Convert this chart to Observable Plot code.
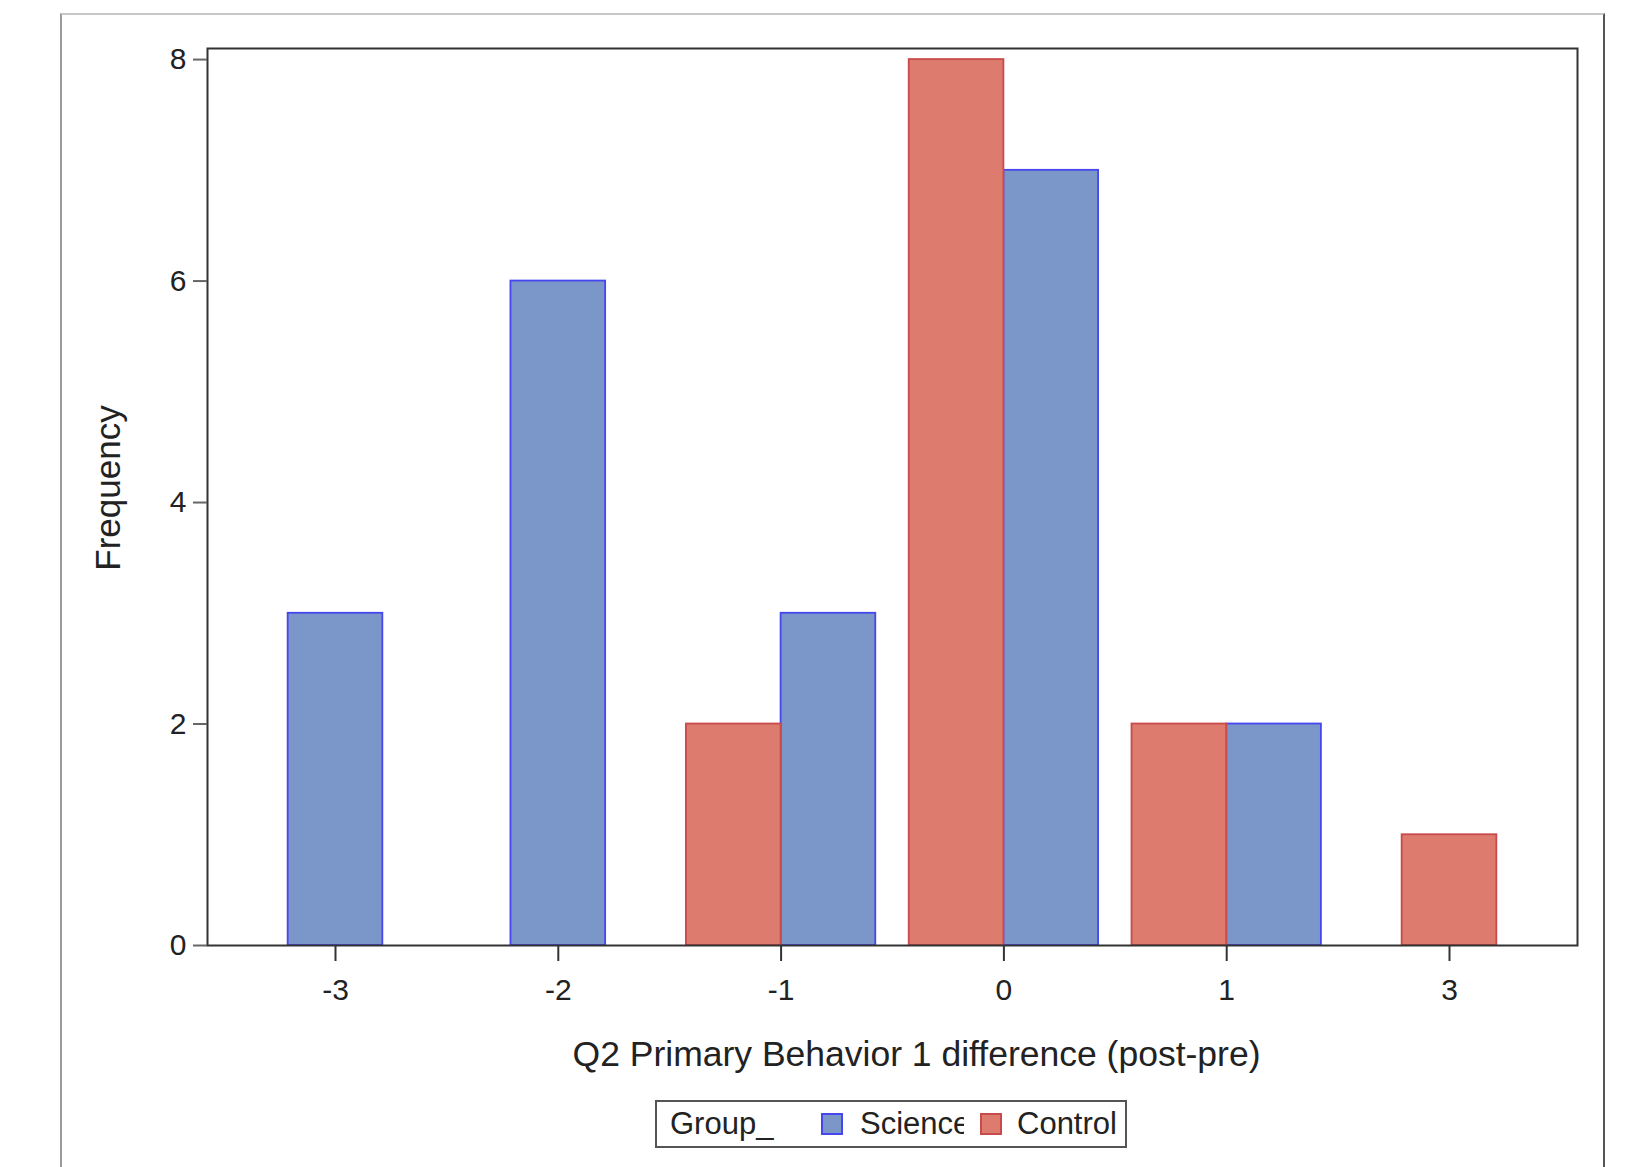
<!DOCTYPE html>
<html>
<head>
<meta charset="utf-8">
<script src="https://cdn.jsdelivr.net/npm/d3@7"></script>
<script src="https://cdn.jsdelivr.net/npm/@observablehq/plot@0.6"></script>
<style>
  html, body { margin: 0; padding: 0; background: #fff; }
  #page { position: relative; width: 1631px; height: 1167px; overflow: hidden; font-family: "Liberation Sans", Arial, Helvetica, sans-serif; color: #222; }
  #outer { position: absolute; left: 60px; top: 13px; width: 1541px; height: 1300px;
           border-top: 2px solid #c8c8c8; border-left: 2px solid #9a9a9a; border-right: 2px solid #555; }
  #chart { position: absolute; left: 0; top: 0; }
  #legend { position: absolute; left: 655px; top: 1100px; width: 468px; height: 44px;
            border: 2px solid #555; display: flex; align-items: center; font-size: 31px; white-space: nowrap; }
  #legend .title { margin-left: 13px; width: 151px; display: inline-block; flex: none; }
  #legend .sw { width: 18px; height: 18px; display: inline-block; flex: none; }
  #legend .lab { display: inline-block; overflow: hidden; flex: none; }
</style>
</head>
<body>
<div id="page">
  <div id="outer"></div>
  <div id="chart"></div>
  <div id="legend"></div>
</div>
<script>
// ---- data ----
const categories = ["-3", "-2", "-1", "0", "1", "3"];
const groups = ["Science", "Control"];
const scienceFreq = [3, 6, 3, 7, 2, 0];
const controlFreq = [0, 0, 2, 8, 2, 1];
const yTicks = [0, 2, 4, 6, 8];
const xLabel = "Q2 Primary Behavior 1 difference (post-pre)";
const yLabel = "Frequency";
const legendTitle = "Group_";

// ---- styles ----
const fills = {Science: "#7b96c8", Control: "#dc7b6e"};
const strokes = {Science: "#4646ee", Control: "#c84a4a"};
const barWidth = 0.425;           // fraction of a category step per bar
const clusterOrder = ["Control", "Science"]; // left-to-right within a cluster

// build rows: only groups with a non-zero count are placed, centered on the tick
const freq = {Science: scienceFreq, Control: controlFreq};
const rows = [];
categories.forEach((c, i) => {
  const present = clusterOrder.filter(g => freq[g][i] > 0);
  const k = present.length;
  present.forEach((g, j) => {
    const x1 = i - k * barWidth / 2 + j * barWidth;
    rows.push({cat: c, idx: i, group: g, freq: freq[g][i], x1, x2: x1 + barWidth});
  });
});

const W = 1631, H = 1090;
const mL = 207, mR = 54, mT = 48, mB = 145;
const pad = 0.5745;

const barMarks = groups.map(g =>
  Plot.rectY(rows.filter(r => r.group === g), {
    x1: "x1", x2: "x2", y: "freq",
    fill: fills[g], stroke: strokes[g], strokeWidth: 1.8
  })
);

const chart = Plot.plot({
  width: W, height: H,
  marginLeft: mL, marginRight: mR, marginTop: mT, marginBottom: mB,
  style: {fontFamily: '"Liberation Sans", Arial, Helvetica, sans-serif', fontSize: "30px", color: "#222", background: "transparent"},
  x: {type: "linear", domain: [-pad, categories.length - 1 + pad]},
  y: {domain: [0, 8.1]},
  marks: [
    ...barMarks,
    Plot.frame({stroke: "#333", strokeWidth: 2}),
    Plot.axisX({ticks: d3.range(categories.length), tickFormat: i => categories[i],
                tickSize: 16, tickPadding: 17, stroke: "#333", strokeWidth: 2, label: null}),
    Plot.axisY({ticks: yTicks, tickSize: 14, tickPadding: 7, stroke: "#666", strokeWidth: 2, label: null}),
    Plot.text([xLabel], {frameAnchor: "bottom", text: d => d, lineAnchor: "top", dy: 95, dx: 24,
                         fontSize: 35.5, fill: "#222"}),
    Plot.text([yLabel], {frameAnchor: "left", text: d => d, lineAnchor: "top", textAnchor: "middle",
                         rotate: -90, dx: -112, dy: -9, fontSize: 35, fill: "#222"})
  ]
});
document.getElementById("chart").appendChild(chart);

// ---- legend ----
const leg = document.getElementById("legend");
const t = document.createElement("span");
t.className = "title"; t.textContent = legendTitle; leg.appendChild(t);
const labWidths = {Science: 104, Control: null};
const labGaps = {Science: 16, Control: 0};
groups.forEach(g => {
  const sw = document.createElement("span");
  sw.className = "sw";
  sw.style.background = fills[g];
  sw.style.border = "2px solid " + strokes[g];
  sw.style.marginRight = (g === "Science" ? 17 : 15) + "px";
  leg.appendChild(sw);
  const lab = document.createElement("span");
  lab.className = "lab";
  lab.textContent = g;
  if (labWidths[g]) { lab.style.width = labWidths[g] + "px"; }
  lab.style.marginRight = labGaps[g] + "px";
  leg.appendChild(lab);
});
</script>
</body>
</html>
